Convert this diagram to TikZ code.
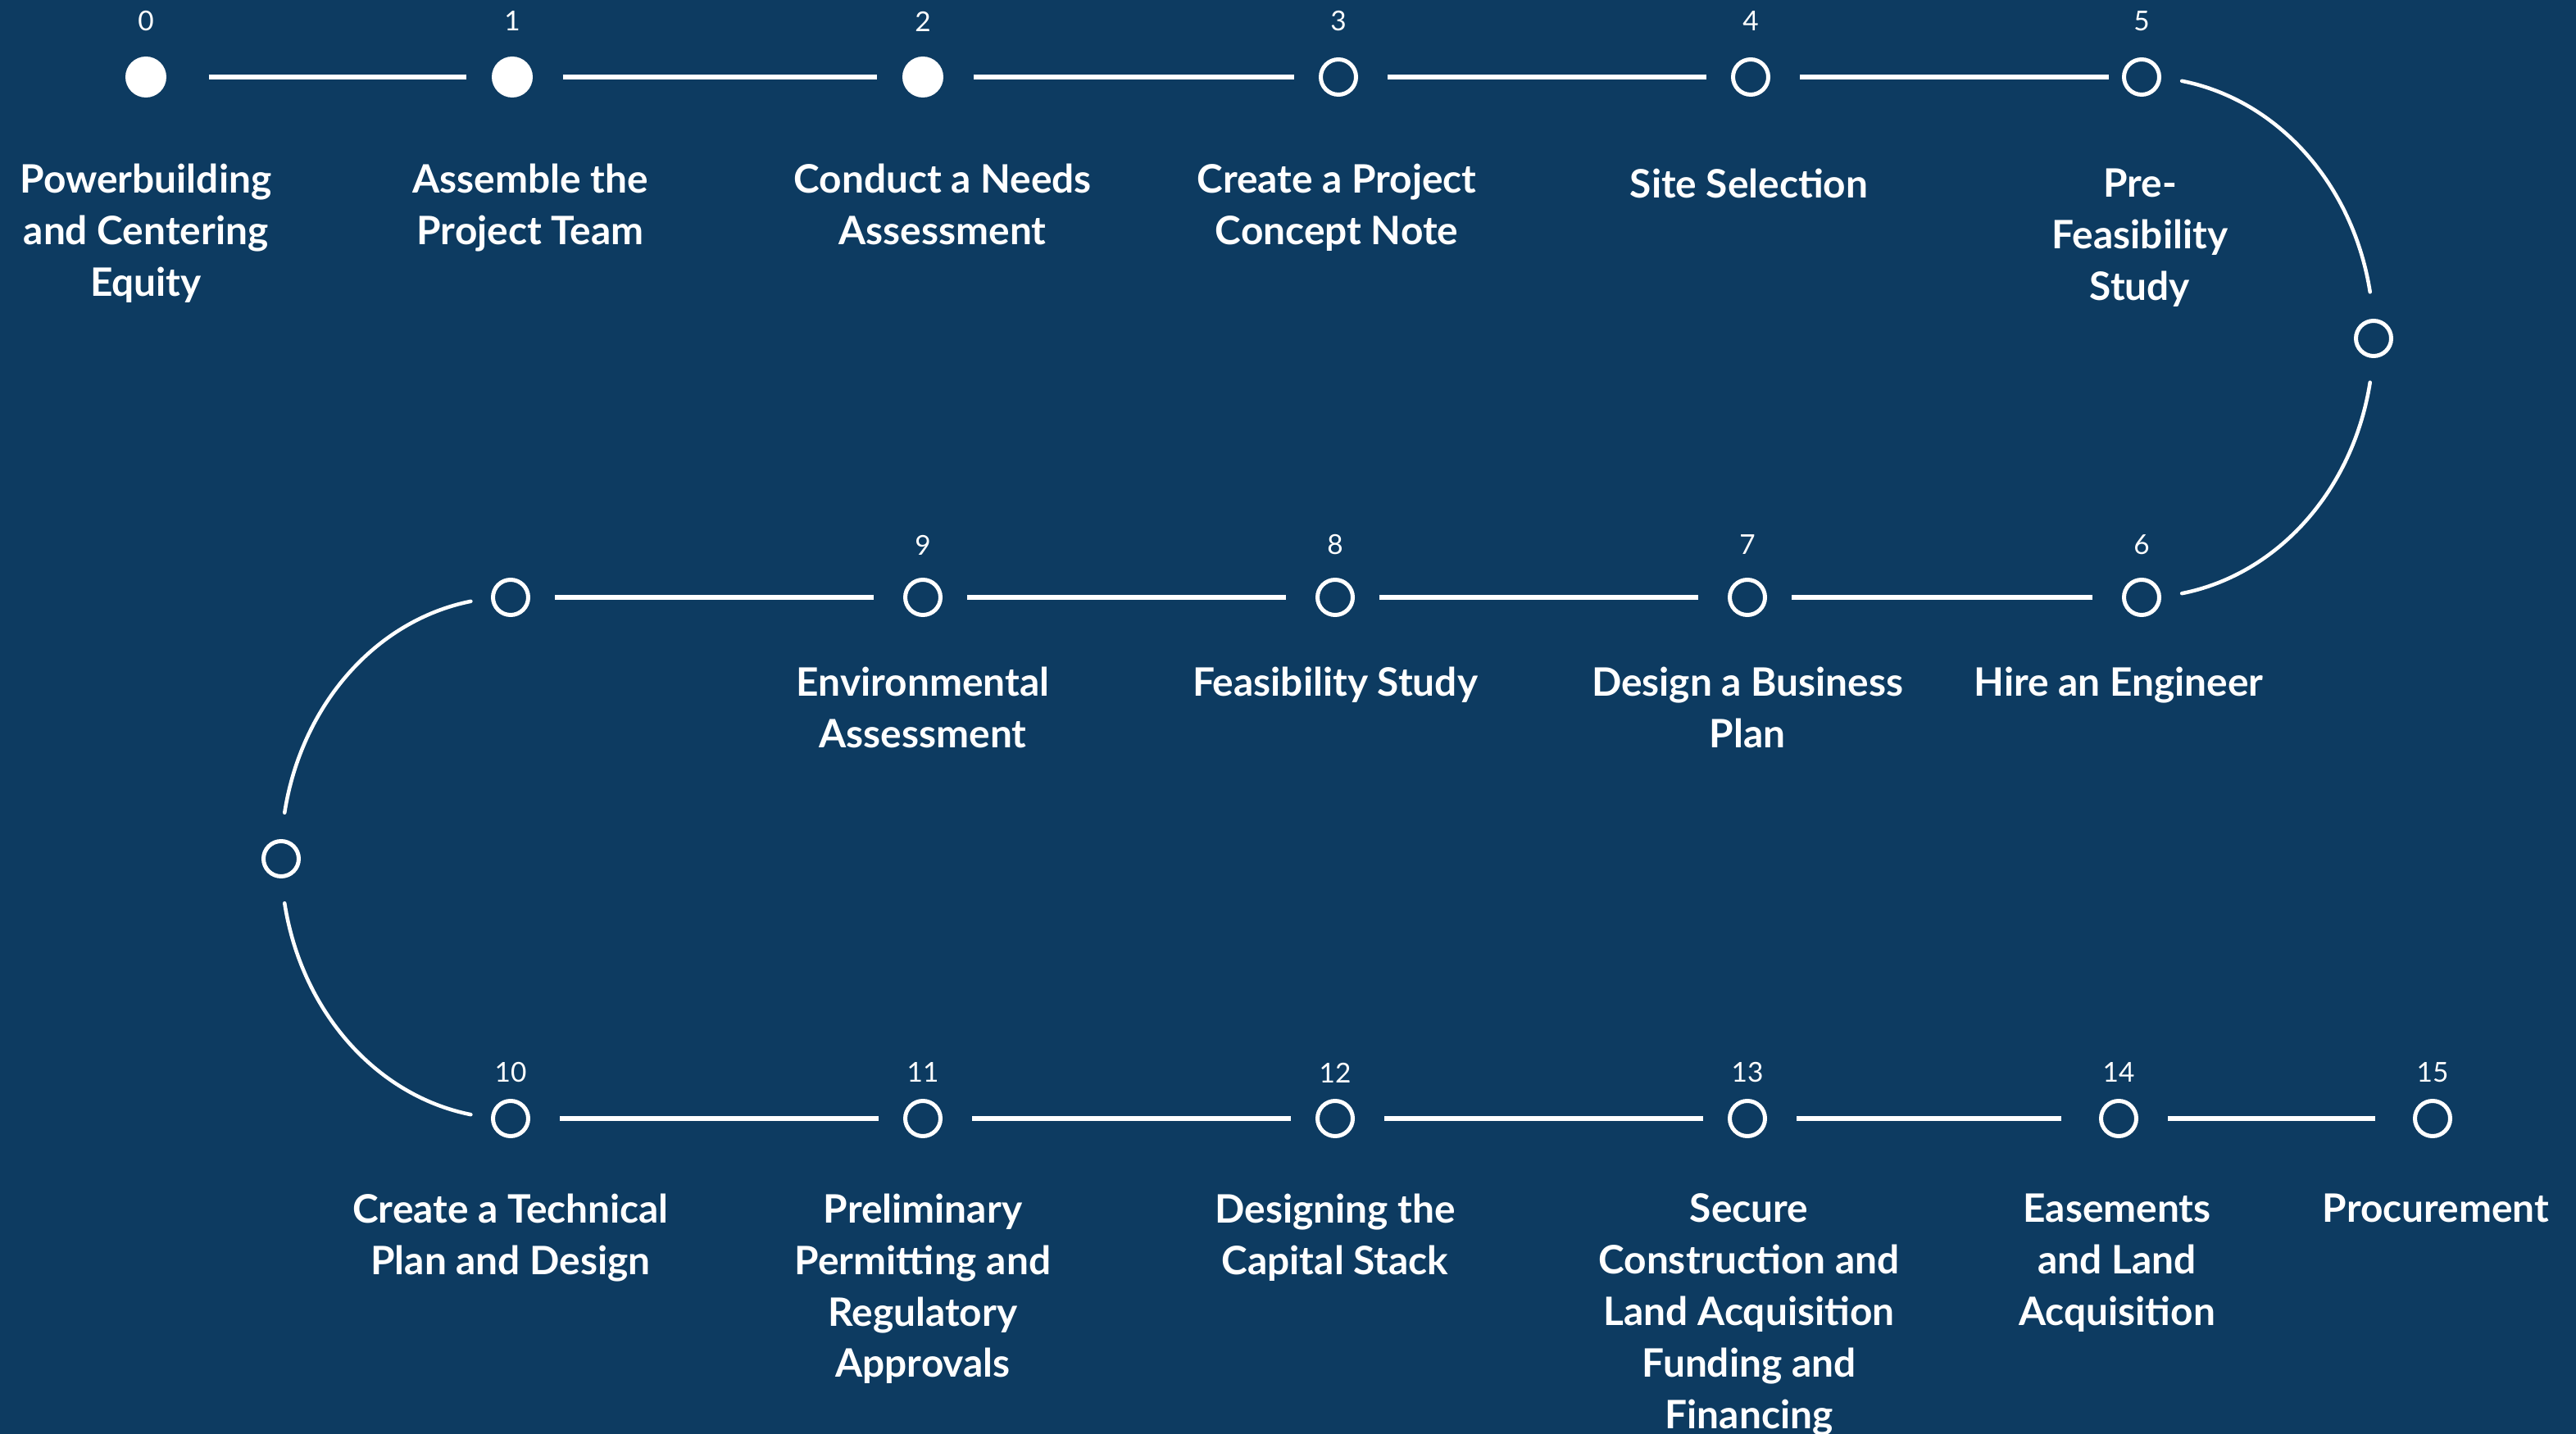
\documentclass[tikz,border=0pt]{standalone}
\usepackage{fontspec}
\setmainfont{Lato}
\usetikzlibrary{calc}
\definecolor{navy}{HTML}{0D3B61}

\newcommand{\rowa}{-0.94}
\newcommand{\rowb}{-7.29}
\newcommand{\rowc}{-13.65}

\begin{document}
\begin{tikzpicture}[
  done/.style={circle, fill=white, minimum size=0.5cm, inner sep=0pt},
  todo/.style={circle, draw=white, line width=0.05cm, minimum size=0.43cm, inner sep=0pt},
  link/.style={white, line width=0.055cm, shorten <=0.36cm, shorten >=0.30cm},
  turn/.style={white, line width=0.045cm, line cap=round},
  num/.style={white, inner sep=0pt, font=\fontsize{9.5}{11}\selectfont},
  lbl/.style={white, anchor=north, inner sep=0pt, align=center,
              font=\bfseries\fontsize{13.6}{17.9}\selectfont},
]
% background
\fill[navy] (0,0) rectangle (31.43,-17.5);
\useasboundingbox (0,0) rectangle (31.43,-17.5);

%% circles
\foreach \i/\x in {0/1.78, 1/6.25, 2/11.26}
  \node[done] (c\i) at (\x,\rowa) {};
\foreach \i/\x in {3/16.33, 4/21.36, 5/26.13}
  \node[todo] (c\i) at (\x,\rowa) {};
\node[todo] (cr) at (28.96,-4.13) {};
\foreach \i/\x in {6/26.13, 7/21.32, 8/16.29, 9/11.26}
  \node[todo] (c\i) at (\x,\rowb) {};
\node[todo] (cb) at (6.23,\rowb) {};
\node[todo] (cl) at (3.43,-10.48) {};
\foreach \i/\x in {10/6.23, 11/11.26, 12/16.29, 13/21.32, 14/25.85, 15/29.68}
  \node[todo] (c\i) at (\x,\rowc) {};

%% numbers
\foreach \i/\x in {0/1.78, 1/6.25, 2/11.26, 3/16.33, 4/21.36, 5/26.13}
  \node[num] (n\i) at (\x,-0.26) {\i};
\foreach \i/\x in {6/26.13, 7/21.32, 8/16.29, 9/11.26}
  \node[num] (n\i) at (\x,-6.65) {\i};
\foreach \i/\x in {10/6.23, 11/11.26, 12/16.29, 13/21.32, 14/25.85, 15/29.68}
  \node[num] (n\i) at (\x,-13.09) {\i};

%% connectors
\draw[link, shorten <=0.51cm] (c0) -- (c1);
\foreach \a/\b in {1/2, 2/3, 3/4, 6/7, 7/8, 8/9, 9/b, 10/11, 11/12, 12/13}
  \draw[link] (c\a) -- (c\b);
\draw[link, shorten >=0.16cm] (c4) -- (c5);
\foreach \a/\b in {13/14, 14/15}
  \draw[link, shorten >=0.46cm] (c\a) -- (c\b);

% right turn
\coordinate (rc) at ($(c5)!0.5!(c6)$);
\draw[turn] ($(rc)+(80:2.83 and 3.175)$) arc[start angle=80, end angle=10, x radius=2.83, y radius=3.175];
\draw[turn] ($(rc)+(-10:2.83 and 3.175)$) arc[start angle=-10, end angle=-80, x radius=2.83, y radius=3.175];
% left turn
\coordinate (lc) at ($(cb)!0.5!(c10)$);
\draw[turn] ($(lc)+(100:2.80 and 3.18)$) arc[start angle=100, end angle=170, x radius=2.80, y radius=3.18];
\draw[turn] ($(lc)+(190:2.80 and 3.18)$) arc[start angle=190, end angle=260, x radius=2.80, y radius=3.18];

%% labels
\node[lbl] (l0) at (1.78,-1.99) {Powerbuilding\\and Centering\\Equity};
\node[lbl] (l1) at (6.47,-1.99) {Assemble the\\Project Team};
\node[lbl] (l2) at (11.50,-1.99) {Conduct a Needs\\Assessment};
\node[lbl] (l3) at (16.31,-1.99) {Create a Project\\Concept Note};
\node[lbl] (l4) at (21.34,-2.05) {Site Selection};
\node[lbl] (l5) at (26.11,-2.05) {Pre-\\Feasibility\\Study};

\node[lbl] (l6) at (25.85,-8.13) {Hire an Engineer};
\node[lbl] (l7) at (21.32,-8.13) {Design a Business\\Plan};
\node[lbl] (l8) at (16.29,-8.13) {Feasibility Study};
\node[lbl] (l9) at (11.26,-8.13) {Environmental\\Assessment};

\node[lbl] (l10) at (6.23,-14.56) {Create a Technical\\Plan and Design};
\node[lbl] (l11) at (11.26,-14.56) {Preliminary\\Permitting and\\Regulatory\\Approvals};
\node[lbl] (l12) at (16.29,-14.56) {Designing the\\Capital Stack};
\node[lbl] (l13) at (21.34,-14.56) {Secure\\Construction and\\Land Acquisition\\Funding and\\Financing};
\node[lbl] (l14) at (25.83,-14.56) {Easements\\and Land\\Acquisition};
\node[lbl] (l15) at (29.72,-14.56) {Procurement};

\end{tikzpicture}
\end{document}
